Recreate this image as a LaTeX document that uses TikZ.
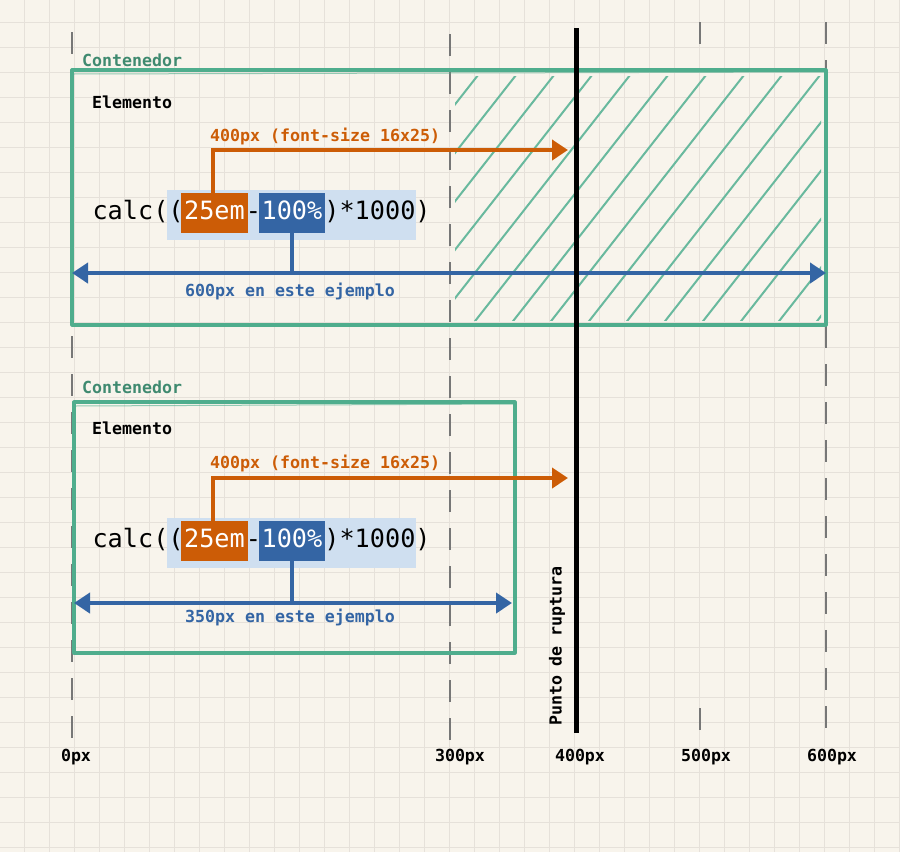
\documentclass[tikz,border=0pt]{standalone}
\usepackage{fontspec}
\setmonofont{DejaVu Sans Mono}
\usetikzlibrary{arrows.meta,calc}
\definecolor{paper}{HTML}{F8F4EC}
\definecolor{gridc}{HTML}{E6E1DA}
\definecolor{greenc}{HTML}{4FAD8D}
\definecolor{greentxt}{HTML}{3F8A70}
\definecolor{orangec}{HTML}{CC5C06}
\definecolor{bluec}{HTML}{3465A4}
\definecolor{bgblue}{HTML}{CFDFF0}
\definecolor{dashc}{HTML}{777777}
\begin{document}
\begin{tikzpicture}[x=1pt,y=-1pt,
  lbl/.style={font=\fontsize{16.6}{18}\selectfont\ttfamily\bfseries, inner sep=0pt},
  ctxt/.style={font=\fontsize{25.2}{26}\selectfont\ttfamily, inner sep=0pt, text height=18pt, text depth=5pt},
  obox/.style={ctxt, fill=orangec, text=white, minimum width=67pt, minimum height=40pt},
  bbox/.style={ctxt, fill=bluec, text=white, minimum width=66pt, minimum height=40pt},
  bgbox/.style={fill=bgblue, inner sep=0pt, minimum width=249pt, minimum height=50pt},
  oarr/.style={draw=orangec, line width=4.5pt, -{Triangle[length=16pt,width=20pt]}},
  bline/.style={draw=bluec, line width=4.5pt},
  barr/.style={bline, {Triangle[length=16pt,width=20pt]}-{Triangle[length=16pt,width=20pt]}},
  cont/.style={draw=greenc, line width=3.2pt, line join=round},
  hatchl/.style={draw=greenc!85, line width=2pt, line cap=round},
  dashline/.style={draw=dashc, line width=2pt, dash pattern=on 22pt off 16pt},
  breakline/.style={draw=black, line width=5pt}]
\fill[paper] (0,0) rectangle (900,852);
\useasboundingbox (0,0) rectangle (900,852);
% grid
\foreach \i in {0,...,35} \draw[gridc, line width=1pt] (24+25*\i,0) -- ++(0,852);
\foreach \j in {0,...,33} \draw[gridc, line width=1pt] (0,22+25*\j) -- ++(900,0);
% dashed guides
\draw[dashline] (72,32) -- (72,742);
\draw[dashline] (450,34) -- (450,742);
\draw[dashline] (826,22) -- (826,742);
\draw[dashline] (700,22) -- (700,50);
\draw[dashline] (700,708) -- (700,735);
% hatch
\begin{scope}
  \clip (455,76) rectangle (821,320);
  \foreach \i in {0,...,16} \draw[hatchl] (244+38*\i,325) -- ++(200,-255);
\end{scope}
% containers
\draw[cont] (72,70) rectangle (826,325);
\draw[greenc, line width=1pt, opacity=0.6] (73,74) -- (826,72);
\draw[cont] (74,402) rectangle (515,653);
\draw[greenc, line width=1pt, opacity=0.6] (75,406) -- (515,404);
\node[lbl, text=greentxt, anchor=west] (ct1) at (82,60) {Contenedor};
\node[lbl, anchor=west] (el1) at (92,102) {Elemento};
\node[lbl, text=greentxt, anchor=west] (ct2) at (82,387) {Contenedor};
\node[lbl, anchor=west] (el2) at (92,428) {Elemento};
% ---------- row 1
\node[bgbox] (bg1) at (291.5,215) {};
\node[obox] (o1) at (214.5,213) {25em};
\node[bbox] (b1) at (292,213) {100\%};
\node[ctxt, anchor=east] (c1) at ([xshift=3pt]o1.west) {calc((};
\node[ctxt] (m1) at ($(o1.east)!0.5!(b1.west)$) {-};
\node[ctxt, anchor=west] (e1) at ([xshift=-1pt]b1.east) {)*1000)};
\coordinate (ot1) at (568,150);
\draw[oarr] ([xshift=-1.5pt]o1.north) |- (ot1);
\node[lbl, text=orangec, anchor=west] (ol1) at (210,136) {400px (font-size 16x25)};
\coordinate (bl1) at (72,273);
\coordinate (br1) at (826,273);
\draw[bline] (b1.south) -- (b1.south |- bl1);
\draw[barr] (bl1) -- (br1);
\node[lbl, text=bluec] (btl1) at (290,291) {600px en este ejemplo};
% ---------- row 2
\node[bgbox] (bg2) at (291.5,543) {};
\node[obox] (o2) at (214.5,541) {25em};
\node[bbox] (b2) at (292,541) {100\%};
\node[ctxt, anchor=east] (c2) at ([xshift=3pt]o2.west) {calc((};
\node[ctxt] (m2) at ($(o2.east)!0.5!(b2.west)$) {-};
\node[ctxt, anchor=west] (e2) at ([xshift=-1pt]b2.east) {)*1000)};
\coordinate (ot2) at (568,478);
\draw[oarr] ([xshift=-1.5pt]o2.north) |- (ot2);
\node[lbl, text=orangec, anchor=west] (ol2) at (210,463) {400px (font-size 16x25)};
\coordinate (bl2) at (74,603);
\coordinate (br2) at (512,603);
\draw[bline] (b2.south) -- (b2.south |- bl2);
\draw[barr] (bl2) -- (br2);
\node[lbl, text=bluec] (btl2) at (290,617) {350px en este ejemplo};
% ---------- breakpoint
\draw[breakline] (576,28) -- (576,733);
\node[lbl, rotate=90] (pr) at (557,646) {Punto de ruptura};
% ---------- axis labels
\node[lbl] (a0) at (76,757) {0px};
\node[lbl] (a3) at (460,757) {300px};
\node[lbl] (a4) at (580,757) {400px};
\node[lbl] (a5) at (706,757) {500px};
\node[lbl] (a6) at (832,757) {600px};
\end{tikzpicture}
\end{document}
